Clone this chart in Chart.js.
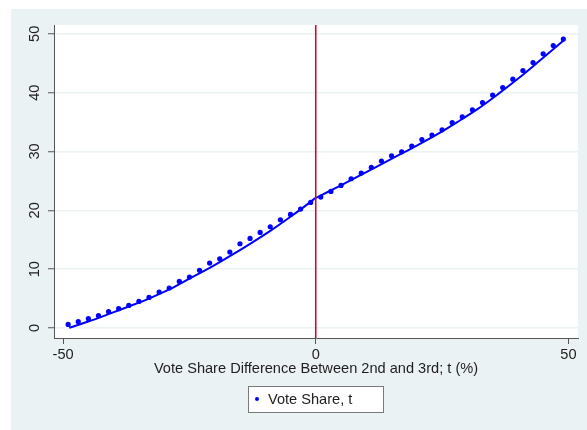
<!DOCTYPE html>
<html>
<head>
<meta charset="utf-8">
<script src="https://cdn.jsdelivr.net/npm/chart.js@4/dist/chart.umd.min.js"></script>
<style>
html,body{margin:0;padding:0;background:#fff;}
#wrap{width:587px;height:430px;}
</style>
</head>
<body>
<div id="wrap"><canvas id="c" width="587" height="430"></canvas></div>
<script>
// ---- data ----
const voteX = [-49,-47,-45,-43,-41,-39,-37,-35,-33,-31,-29,-27,-25,-23,-21,-19,-17,-15,-13,-11,-9,-7,-5,-3,-1,
               1,3,5,7,9,11,13,15,17,19,21,23,25,27,29,31,33,35,37,39,41,43,45,47,49];
const voteShare = [0.61,1.07,1.58,2.09,2.77,3.28,3.84,4.52,5.20,6.12,6.80,7.92,8.66,9.80,11.04,11.77,12.91,14.32,15.22,16.24,17.21,18.40,19.30,20.22,21.34,
                   22.26,23.21,24.23,25.37,26.33,27.29,28.37,29.27,29.95,30.92,32.04,32.79,33.69,34.93,35.90,37.09,38.33,39.59,40.88,42.30,43.77,45.12,46.60,48.01,49.10];
const fitLeftX  = [-48.8,-45,-41,-37,-33,-29,-25,-21,-17,-13,-9,-5,-2,0];
const fitLeftY  = [0.05,1.1,2.35,3.65,5.0,6.55,8.4,10.2,12.2,14.3,16.5,18.9,20.8,22.15];
const fitRightX = [0,4,8,12,16,20,24,28,32,36,40,44,49.2];
const fitRightY = [22.1,23.8,25.6,27.4,29.2,31.0,32.9,35.0,37.2,39.7,42.35,45.2,49.0];
const xTicks = [-50,0,50];
const yTicks = [0,10,20,30,40,50];
const xRange = [-51.8, 51.9];
const yRange = [-1.7, 51.5];
const cutoffX = 0;
const xTitle = 'Vote Share Difference Between 2nd and 3rd; t (%)';
const legendLabel = 'Vote Share, t';

const FONT = "'Liberation Sans', Arial, sans-serif";
const FSIZE = 14.6;
const PANEL = '#eaf2f3';
const AXIS = '#555555';
const TEXT = '#1e1e1e';
const BLUE = '#0000ff';
const RED = '#c8102e';

const toXY = (xs, ys) => xs.map((x, i) => ({x: x, y: ys[i]}));

const bgPlugin = {
  id: 'bg',
  beforeDraw(chart) {
    const {ctx, chartArea: a} = chart;
    ctx.save();
    ctx.fillStyle = '#ffffff';
    ctx.fillRect(0, 0, chart.width, chart.height);
    ctx.fillStyle = PANEL;
    ctx.fillRect(11, 9, chart.width - 11, chart.height - 9);
    ctx.fillStyle = '#ffffff';
    ctx.fillRect(a.left, a.top, a.right - a.left, a.bottom - a.top);
    ctx.restore();
  }
};

const legendPlugin = {
  id: 'boxLegend',
  afterDraw(chart) {
    const ctx = chart.ctx;
    ctx.save();
    ctx.fillStyle = '#ffffff';
    ctx.fillRect(248, 386, 135, 26);
    ctx.strokeStyle = '#7a7a7a';
    ctx.lineWidth = 1;
    ctx.strokeRect(248.5, 386.5, 135, 26);
    ctx.fillStyle = BLUE;
    ctx.beginPath();
    ctx.arc(257, 399, 2, 0, Math.PI * 2);
    ctx.fill();
    ctx.fillStyle = TEXT;
    ctx.font = FSIZE + 'px ' + FONT;
    ctx.textBaseline = 'middle';
    ctx.textAlign = 'left';
    ctx.fillText(legendLabel, 268, 399.5);
    ctx.restore();
  }
};

new Chart(document.getElementById('c'), {
  type: 'scatter',
  data: {
    datasets: [
      {
        label: legendLabel,
        data: toXY(voteX, voteShare),
        backgroundColor: BLUE,
        borderColor: BLUE,
        pointRadius: 2.6,
        pointBorderWidth: 0,
        showLine: false,
        order: 1
      },
      {
        label: 'fit left',
        data: toXY(fitLeftX, fitLeftY),
        showLine: true,
        borderColor: BLUE,
        borderWidth: 2,
        pointRadius: 0,
        cubicInterpolationMode: 'monotone',
        fill: false,
        order: 2
      },
      {
        label: 'fit right',
        data: toXY(fitRightX, fitRightY),
        showLine: true,
        borderColor: BLUE,
        borderWidth: 2,
        pointRadius: 0,
        cubicInterpolationMode: 'monotone',
        fill: false,
        order: 2
      },
      {
        label: 'cutoff',
        data: [{x: cutoffX, y: yRange[0]}, {x: cutoffX, y: yRange[1]}],
        showLine: true,
        borderColor: RED,
        borderWidth: 1.6,
        pointRadius: 0,
        fill: false,
        order: 0
      }
    ]
  },
  options: {
    responsive: false,
    animation: false,
    devicePixelRatio: 1,
    layout: {padding: {left: 11, top: 25, right: 9, bottom: 0}},
    plugins: {
      legend: {display: false},
      tooltip: {enabled: false}
    },
    scales: {
      x: {
        type: 'linear',
        position: 'bottom',
        min: xRange[0],
        max: xRange[1],
        afterBuildTicks(scale) { scale.ticks = xTicks.map(v => ({value: v})); },
        afterFit(scale) { scale.height = 92; },
        border: {display: true, color: AXIS, width: 1},
        grid: {drawOnChartArea: false, drawTicks: true, tickLength: 6, tickColor: AXIS, tickWidth: 1},
        ticks: {color: TEXT, font: {family: FONT, size: FSIZE}, padding: 2, maxRotation: 0, minRotation: 0},
        title: {display: true, text: xTitle, color: TEXT, font: {family: FONT, size: FSIZE}, padding: {top: 4, bottom: 52}}
      },
      y: {
        type: 'linear',
        position: 'left',
        min: yRange[0],
        max: yRange[1],
        afterBuildTicks(scale) { scale.ticks = yTicks.map(v => ({value: v})); },
        afterFit(scale) { scale.width = 43; },
        border: {display: true, color: AXIS, width: 1},
        grid: {drawOnChartArea: true, color: PANEL, lineWidth: 1.5, drawTicks: true, tickLength: 6, tickColor: AXIS, tickWidth: 1},
        ticks: {color: TEXT, font: {family: FONT, size: FSIZE}, padding: 5, minRotation: 90, maxRotation: 90, crossAlign: 'center'}
      }
    }
  },
  plugins: [bgPlugin, legendPlugin]
});
</script>
</body>
</html>
